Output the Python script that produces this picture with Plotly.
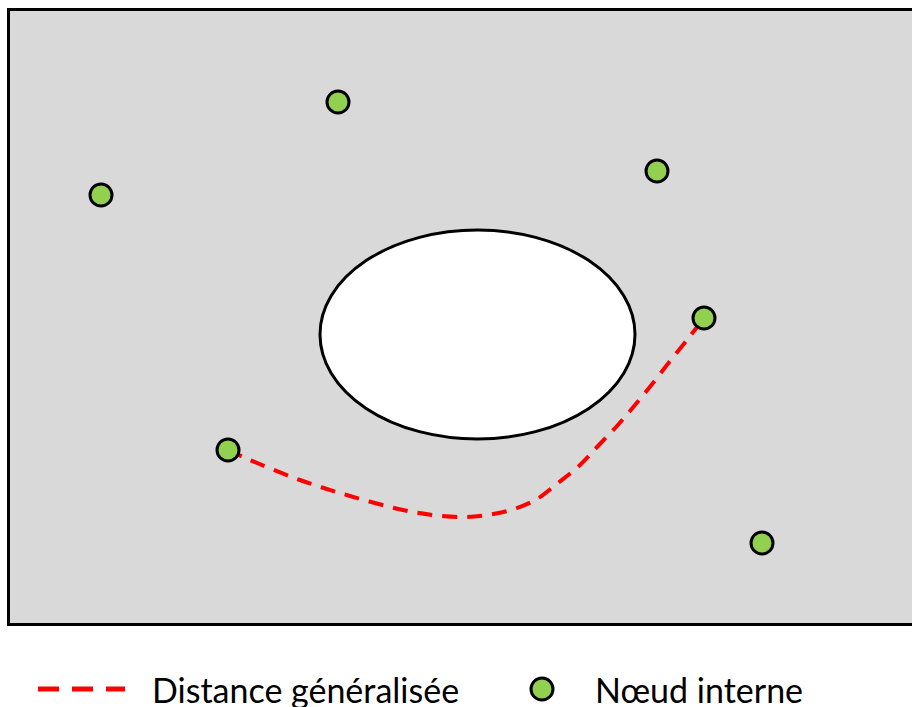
import plotly.graph_objects as go

# node positions (page pixel space, y down)
node_x = [101, 338, 657, 704, 228, 762]
node_y = [195, 102, 171, 318, 450, 543]

# generalised distance path between two nodes
path_x = [228, 250, 300, 350, 403, 433, 463, 487, 511, 537, 558, 579, 598, 617, 635, 653, 670, 687, 704]
path_y = [450, 460, 480, 496, 510, 515, 517, 515, 510, 499, 483, 466, 446, 426, 405, 383, 361, 340, 318]

# domain frame (runs past the right edge) and obstacle (ellipse bounds)
frame = dict(x0=8.5, x1=1000, y0=9.5, y1=624.5)
hole = dict(x0=320, x1=635, y0=230, y1=439)

legend_labels = ["Distance généralisée", "Nœud interne"]
legend_line_x = [38, 125]
legend_y = 689
legend_node_x = [542]
legend_text_x = [150, 593]

GREEN = "#92d050"
RED = "#ff0000"
FONT = "Lato"

W, H = 912, 707

fig = go.Figure()

fig.add_shape(type="rect", xref="x", yref="y", **frame,
              fillcolor="#d9d9d9", line=dict(color="black", width=3), layer="below")
fig.add_shape(type="circle", xref="x", yref="y", **hole,
              fillcolor="white", line=dict(color="black", width=3), layer="below")

fig.add_trace(go.Scatter(
    x=path_x, y=path_y, mode="lines",
    line=dict(color=RED, width=4, dash="15px,10px", shape="spline", smoothing=1),
    hoverinfo="skip", showlegend=False,
))
fig.add_trace(go.Scatter(
    x=node_x, y=node_y, mode="markers",
    marker=dict(size=22, color=GREEN, line=dict(color="black", width=3)),
    hoverinfo="skip", showlegend=False,
))

# legend drawn by hand below the frame
fig.add_trace(go.Scatter(
    x=legend_line_x, y=[legend_y] * 2, mode="lines",
    line=dict(color=RED, width=5, dash="21px,13px"),
    hoverinfo="skip", showlegend=False,
))
fig.add_trace(go.Scatter(
    x=legend_node_x, y=[legend_y], mode="markers",
    marker=dict(size=22, color=GREEN, line=dict(color="black", width=3)),
    hoverinfo="skip", showlegend=False,
))
for tx, label in zip(legend_text_x, legend_labels):
    fig.add_annotation(x=tx, y=legend_y, text=label, showarrow=False,
                       xanchor="left", yanchor="middle",
                       font=dict(family=FONT, size=34, color="black"))

fig.update_layout(
    width=W, height=H,
    margin=dict(l=0, r=0, t=0, b=0),
    paper_bgcolor="white", plot_bgcolor="white",
    xaxis=dict(range=[0, W], visible=False, fixedrange=True),
    yaxis=dict(range=[H, 0], visible=False, fixedrange=True),
)

# drop the default body margin so figure pixels line up with the page
fig.write_html(
    "out.html",
    config={"displayModeBar": False, "staticPlot": True},
    post_script="document.body.style.margin='0';document.body.style.overflow='hidden';",
)
